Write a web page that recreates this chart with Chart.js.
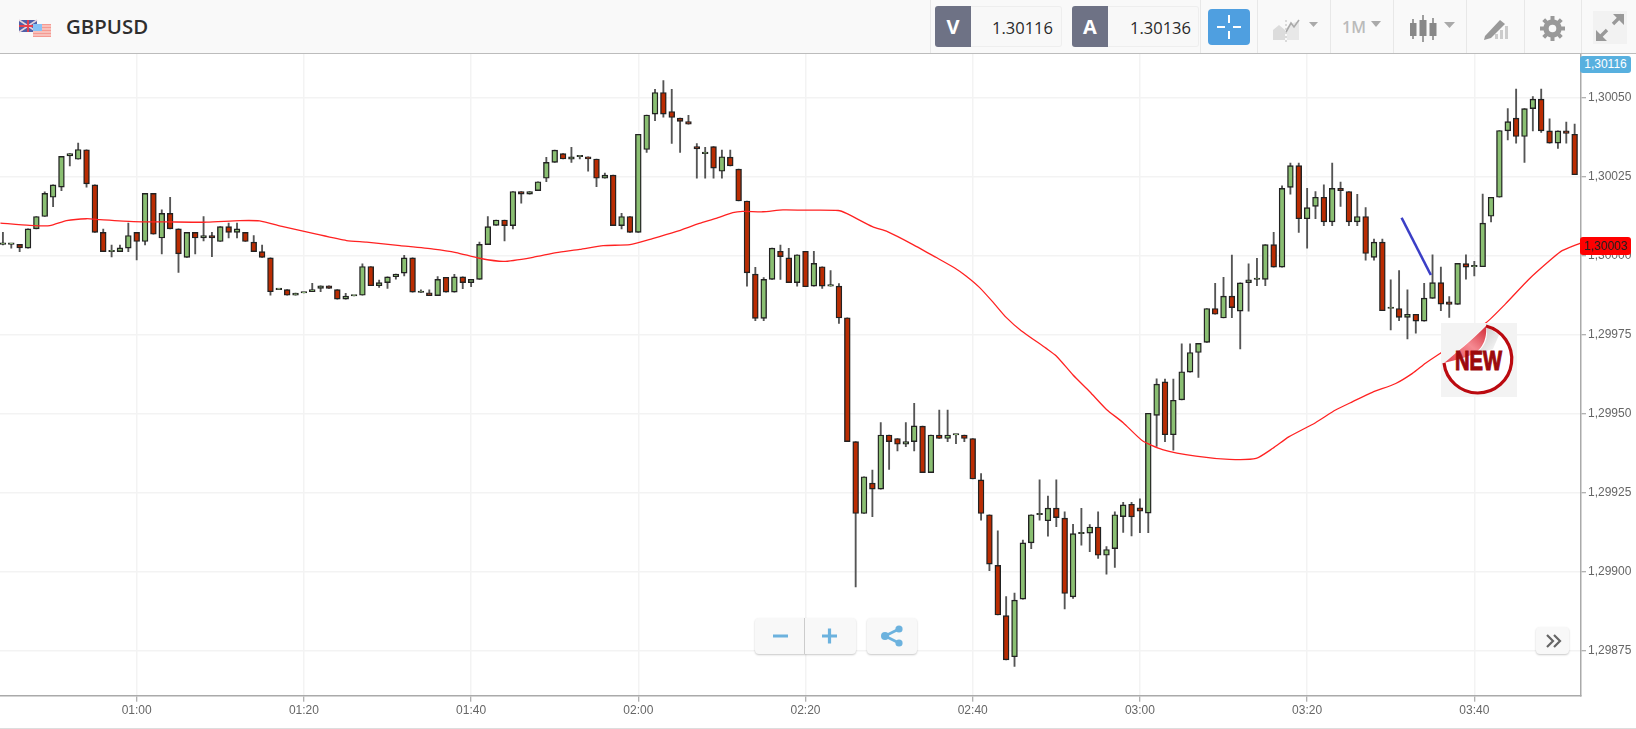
<!DOCTYPE html>
<html>
<head>
<meta charset="utf-8">
<title>GBPUSD</title>
<script src="https://cdn.jsdelivr.net/npm/chart.js@4"></script>
<style>
html, body { margin: 0; padding: 0; background: #fff; }
body { width: 1636px; height: 729px; overflow: hidden; position: relative; font-family: 'Open Sans', sans-serif; }
#chart { position: absolute; left: 0; top: 0; }
.abs { position: absolute; }
#header { left: 0; top: 0; width: 1636px; height: 53px; background: #f9f9f9; border-bottom: 1.5px solid #bcbcbc; }
#pair { left: 66px; top: 12px; font-size: 20.4px; font-weight: 600; color: #2e2e2e; line-height: 28px; }
.sep { top: 0; width: 1px; height: 53px; background: #e8e8e8; }
.letter { top: 6px; width: 36px; height: 41px; background: #6e7285; color: #fff; font-size: 20px; font-weight: 700; line-height: 41px; text-align: center; border-radius: 3px 0 0 3px; }
.quote { top: 6px; height: 39px; background: #f8f8f8; border: 1px solid #eee; border-left: 0; color: #2a2a2a; font-size: 16.5px; line-height: 41px; text-align: right; box-sizing: content-box; border-radius: 0 3px 3px 0; }
.tag { left: 1580px; width: 51px; font: 12px 'Liberation Sans', sans-serif; text-align: center; border-radius: 3px; }
.tool { top: 618px; height: 36px; background: #f8f8f8; border-radius: 4px; box-shadow: 0 1px 2px rgba(0,0,0,.22); }
</style>
</head>
<body>
<canvas id="chart" width="1636" height="729"></canvas>

<div class="abs" id="header"></div>
<svg class="abs" style="left:19px;top:19px" width="33" height="19" viewBox="0 0 33 19">
  <rect x="0" y="1" width="18" height="12" fill="#4f5fa8"/>
  <path d="M0 1L18 13M18 1L0 13" stroke="#e4d4dc" stroke-width="1.6"/>
  <path d="M9 1V13M0 7H18" stroke="#e8404c" stroke-width="1.8"/>
  <rect x="14" y="5" width="18" height="13" fill="#f59a92"/>
  <path d="M14 7H32M14 10H32M14 13H32M14 16H32" stroke="#fbe6e2" stroke-width="1.2"/>
  <rect x="14" y="5" width="9" height="7" fill="#86c2f6"/>
</svg>
<div class="abs" id="pair">GBPUSD</div>

<div class="abs sep" style="left:930px"></div>
<div class="abs sep" style="left:1200px"></div>
<div class="abs sep" style="left:1257px"></div>
<div class="abs sep" style="left:1330px"></div>
<div class="abs sep" style="left:1393px"></div>
<div class="abs sep" style="left:1466px"></div>
<div class="abs sep" style="left:1524px"></div>
<div class="abs sep" style="left:1581px"></div>

<div class="abs letter" style="left:935px">V</div>
<div class="abs quote" style="left:971px;width:82px;padding-right:8px">1.30116</div>
<div class="abs letter" style="left:1072px">A</div>
<div class="abs quote" style="left:1108px;width:83px;padding-right:7px">1.30136</div>

<svg class="abs" style="left:1208px;top:9px" width="42" height="36" viewBox="0 0 42 36">
  <rect width="42" height="36" rx="4" fill="#4f9fe0"/>
  <path d="M21 6V14M21 22V30M9 18H17M25 18H33" stroke="#fff" stroke-width="2"/>
</svg>
<svg class="abs" style="left:1272px;top:18px" width="48" height="24" viewBox="0 0 48 24">
  <path d="M1 22V12L7 7L13 12V22Z" fill="#dcdcdc"/>
  <path d="M15 22V9L21 5L27 3V22Z" fill="#e8e8e8"/>
  <path d="M14 14L19 5L22 9L27 2" fill="none" stroke="#aaa" stroke-width="1.6"/>
  <path d="M14 2V24" stroke="#bbb" stroke-width="1" stroke-dasharray="2 2"/>
  <path d="M37 4H46L41.5 9Z" fill="#aaa"/>
</svg>
<div class="abs" style="left:1342px;top:14px;font-size:16px;font-weight:600;color:#bbb;line-height:26px">1M</div>
<svg class="abs" style="left:1370px;top:20px" width="12" height="8" viewBox="0 0 12 8"><path d="M1 1H11L6 7Z" fill="#aaa"/></svg>
<svg class="abs" style="left:1409px;top:14px" width="48" height="30" viewBox="0 0 48 30">
  <path d="M4 5V25M14 1V28M24 4V26" stroke="#888" stroke-width="1.6"/>
  <rect x="1" y="9" width="6.5" height="13" fill="#888"/>
  <rect x="10.5" y="6" width="7" height="16" fill="#888"/>
  <rect x="20.5" y="9" width="7" height="13" fill="#888"/>
  <path d="M35 8H46L40.5 14Z" fill="#aaa"/>
</svg>
<svg class="abs" style="left:1483px;top:17px" width="26" height="24" viewBox="0 0 26 24">
  <path d="M2 19L17 3L22 7L8 21L1 23Z" fill="#999"/>
  <path d="M12 22H15V17H12ZM17 22H20V13H17ZM22 22H25V9H22Z" fill="#ccc"/>
</svg>
<svg class="abs" style="left:1539px;top:15px" width="27" height="27" viewBox="0 0 27 27">
  <circle cx="13.5" cy="13.5" r="6.5" fill="none" stroke="#999" stroke-width="5.4"/>
  <path d="M13.5 1V26M1 13.5H26M4.7 4.7L22.3 22.3M22.3 4.7L4.7 22.3" stroke="#999" stroke-width="4" stroke-dasharray="4.5 16 4.5"/>
</svg>
<svg class="abs" style="left:1593px;top:11px" width="34" height="33" viewBox="0 0 34 33">
  <rect width="34" height="33" fill="#f2f2f2"/>
  <path d="M5 28L14 19M20 13L29 4" stroke="#999" stroke-width="3.4"/>
  <path d="M3 19V30H14ZM31 14V3H20Z" fill="#999"/>
</svg>

<div class="abs tag" style="top:56px;height:17px;line-height:17px;background:#58b0df;color:#fff">1,30116</div>
<div class="abs tag" style="top:237px;height:18px;line-height:18px;background:#ff0000;color:#222">1,30003</div>

<svg class="abs" style="left:1441px;top:323px" width="76" height="74" viewBox="0 0 76 74">
  <defs>
    <linearGradient id="peel" x1="0" y1="1" x2="1" y2="0">
      <stop offset="0" stop-color="#e4404c"/><stop offset=".55" stop-color="#f58a92"/><stop offset="1" stop-color="#d22c38"/>
    </linearGradient>
    <linearGradient id="shade" x1="0" y1="0" x2="1" y2="1">
      <stop offset="0" stop-color="#9a9a9a"/><stop offset="1" stop-color="#ffffff"/>
    </linearGradient>
  </defs>
  <rect width="76" height="74" fill="#f3f3f3"/>
  <path d="M3 40 L45 3 A34 34 0 1 1 3 40Z" fill="#fff"/>
  <path d="M45 3 C48 14, 44 26, 32 32 L52 26 L58 12Z" fill="url(#shade)" opacity=".65"/>
  <path d="M45 3 A34 34 0 1 1 3 40" fill="none" stroke="#bb0a10" stroke-width="3.2"/>
  <path d="M3 40 C 15 30, 30 18, 45 3 C 46 12, 44 26, 30 32 C 20 36, 10 38, 3 40Z" fill="url(#peel)"/>
  <text x="14" y="47" font-family="Liberation Sans, sans-serif" font-size="27" font-weight="700" fill="#9c0a0c" stroke="#9c0a0c" stroke-width="1.1" textLength="47" lengthAdjust="spacingAndGlyphs">NEW</text>
</svg>

<div class="abs tool" style="left:755px;width:101px"></div>
<div class="abs" style="left:804px;top:618px;width:1px;height:36px;background:#ccc"></div>
<svg class="abs" style="left:770px;top:626px" width="70" height="20" viewBox="0 0 70 20">
  <path d="M3 10H18M52 10H67M59.5 2.5V17.5" stroke="#6cb2de" stroke-width="3.2"/>
</svg>
<div class="abs tool" style="left:867px;width:50px"></div>
<svg class="abs" style="left:880px;top:625px" width="24" height="22" viewBox="0 0 24 22">
  <path d="M5 11L19 4M5 11L19 18" stroke="#6cb2de" stroke-width="2.6"/>
  <circle cx="5" cy="11" r="4" fill="#6cb2de"/><circle cx="19" cy="4" r="3.6" fill="#6cb2de"/><circle cx="19" cy="18" r="3.6" fill="#6cb2de"/>
</svg>
<div class="abs tool" style="left:1536px;top:627px;width:33px;height:27px"></div>
<svg class="abs" style="left:1545px;top:633px" width="18" height="16" viewBox="0 0 18 16">
  <path d="M2 2L8 8L2 14M9 2L15 8L9 14" fill="none" stroke="#666" stroke-width="2.2"/>
</svg>
<div class="abs" style="left:0;top:728px;width:1636px;height:1px;background:#ddd"></div>

<script>
// prices are in points above 1.29000, so 1050 reads 1,30050
const firstMinute = 44; // first candle is 00:44, one candle per minute

const opens = [
  1003.5,1003.5,1003.5,1002.3,1008.4,1012.3,1018.4,1021.6,1031.5,1030.4,
  1033.4,1022.3,1007.3,1001.2,1001.2,1002.3,1007.3,1004.4,1019.6,1005.5,
  1013.3,1008.4,999.4,1007.3,1005.5,1006.3,1004.4,1009.1,1007.3,1007.3,
  1004.2,1001.2,999.2,989.2,989.2,987.4,988.1,988.5,989.6,990.4,
  989.2,986.2,987.2,987.4,996.5,990.4,991.4,993.3,994.4,999.2,
  988.3,988.2,987.3,993.1,988.4,993.2,991.4,992.4,1003.4,1009.5,
  1011.2,1009.4,1020.2,1019.4,1020.5,1024.4,1029.4,1032.2,1030.4,1031.2,
  1031.2,1030.5,1024.4,1025.4,1009.4,1012.3,1007.3,1033.5,1044.7,1051.5,
  1045.5,1043.4,1042.3,1034.4,1032.2,1034.4,1026.6,1031.1,1027.3,1017.2,
  994.1,980.1,992.4,1001.3,999.2,991.4,1001.3,990.3,996.4,990.3,
  990.3,980.3,941.1,918.4,928,926.1,943.2,942.1,940.3,941.1,
  946,931.3,943.2,942.1,943.2,943.2,942.1,929,918,902,
  886.1,873.1,891.3,909.1,918,916.1,920.1,916.9,892,912,
  912.2,914.1,905.2,907.3,917.4,921.3,920.2,918.5,949.4,960,
  943.3,954.3,963.1,969.3,972.5,983.2,980.2,987.1,982.4,991.4,
  992.4,992.4,1003.4,996.3,1021.5,1028.4,1011.6,1015.5,1018.4,1010.6,
  1021.2,1020.2,1010.6,1012.3,999.4,1004.2,983.2,983.2,980.4,981.4,
  979.2,986.4,991.4,985.3,984.5,997.4,996.4,996.4,1012.4,1018.4,
  1039.4,1043.4,1037.6,1046.4,1049.4,1039.4,1035.5,1039.4,1038.3
];
const closes = [
  1003.5,1003.5,1002.4,1008.4,1012.3,1019.6,1022.3,1031.3,1032.2,1033.5,
  1022.6,1007.3,1001.2,1001.2,1002.4,1006.3,1004.4,1019.6,1006.7,1013.3,
  1008.4,1000.5,1007.3,1005.5,1006.3,1005.5,1009.1,1007.3,1008.4,1004.4,
  1001.2,999.4,988.5,989.2,987.4,988.1,988.1,989.2,990.4,989.6,
  986.2,987.1,987.2,996.5,990.4,991.4,993.2,994.1,999.2,988.4,
  988.3,987.3,992.4,988.4,993.2,991.4,992.4,1003.5,1009.1,1011.2,
  1009.4,1020.2,1019.4,1020.2,1023.3,1029.4,1033.3,1030.5,1031.2,1031.2,
  1030.5,1024.4,1025.4,1009.4,1012.3,1007.3,1038.3,1044.4,1051.5,1044.7,
  1043.6,1042.4,1041.5,1033.7,1032.2,1027.6,1031.2,1028.3,1017.2,994.5,
  980.1,992.4,1002.3,999.6,991.4,1000.2,990.1,997.5,990.3,990.3,
  980.2,941.1,918.4,930,926.1,943.2,941.1,940.3,941.1,946.1,
  931.3,943.2,942.1,943.2,943.2,942.1,929.3,918.4,902.4,886.3,
  872.1,891,909.1,918,918,920.1,917.1,893.1,912,912,
  914.1,905.2,907,918,921.1,917.3,919.1,950.1,959.3,943.3,
  954.2,963.2,969.3,972.2,983.2,981.4,987.1,983.5,991.3,992.3,
  992.4,1003.4,996.3,1021.2,1028.4,1011.6,1015.1,1018.4,1010.6,1021.2,
  1020.5,1010.6,1012.3,1000.6,1004.2,982.5,983.2,980.4,981.4,979.2,
  986.5,991.4,984.6,984.5,997.5,996.3,996.4,1010.2,1018.4,1039.5,
  1042.3,1037.6,1046.4,1049.4,1039.4,1035.5,1039.4,1038.6,1025.5
];
const highs = [
  1007.3,1003.5,1003.5,1008.4,1012.3,1020.1,1022.3,1031.3,1032.2,1035.5,
  1033.4,1022.3,1008.3,1003.3,1003.3,1010.2,1007.3,1019.6,1019.6,1014.4,
  1018.4,1008.4,1007.3,1007.3,1012.3,1007.3,1009.1,1010.2,1010.2,1007.3,
  1006.3,1003.3,999.2,989.2,989.2,988.1,988.1,991.2,990.4,990.4,
  989.2,988,987.2,997.3,996.5,992.2,993.2,994.1,1000,999.2,
  989.1,989.1,993.3,993.1,994,993.2,992.4,1004.2,1012.3,1011.2,
  1011.2,1020.2,1020.2,1020.2,1023.3,1031,1033.3,1032.2,1034.2,1031.2,
  1031.2,1030.5,1026,1025.4,1013.3,1012.3,1038.3,1044.4,1052.5,1055.3,
  1052.5,1043.4,1044.3,1035.4,1034.2,1034.4,1033.3,1033.3,1027.3,1017.2,
  996.2,993,1002.3,1003.3,1002.2,1000.2,1001.3,1001.3,996.4,995.2,
  991.1,980.3,941.1,930,932.1,947.1,943.2,942.1,947.1,953.2,
  946,943.2,951.1,951.1,943.2,943.2,942.1,931,918,912.9,
  892.1,893.2,910,918,929,923.9,929,918.9,915,920,
  914.9,918.9,907.9,918.9,921.9,921.9,923,950.1,961,960.9,
  960.9,972,972,972.2,983.2,991.2,993.1,1000.1,991.3,997.3,
  999.1,1003.4,1007.3,1022,1029.2,1029.2,1021.2,1020.2,1022.3,1029.2,
  1023.2,1020.2,1019.3,1015.1,1005.2,1005.2,992.3,995.2,989.1,981.4,
  991.2,1000.2,996.3,987,997.5,1000.2,998.1,1019.4,1018.4,1039.5,
  1046.4,1052.6,1046.4,1050.2,1052.6,1043.2,1039.4,1042.2,1041.5
];
const lows = [
  1003.3,1002.3,1001.2,1002.3,1008.4,1012.3,1015.4,1020.5,1028.3,1030.4,
  1021.6,1007.3,1001.2,999.5,1001.2,1001.2,998.6,1003.3,1006.7,1000.5,
  1008.4,994.6,999.4,1000.5,1004.6,999.6,1004.4,1005.5,1005.5,1004.4,
  1001.2,999.4,987.4,989.2,987.4,987.4,988.1,988.5,988.5,989.6,
  986.2,986.2,987.2,987.4,990.4,989.9,989.6,992.5,993.5,988.4,
  988.3,987.3,987.3,988.4,988.4,989.5,990.1,992.4,1003.4,1009.5,
  1004.6,1008.4,1016.5,1019.4,1020.5,1023.3,1029.4,1030.5,1029.4,1030.5,
  1026.6,1021.7,1024.4,1009.4,1008.4,1007.3,1007.3,1032.6,1042.6,1043.7,
  1035.4,1032.6,1041.5,1024.4,1024.4,1024.4,1024.4,1028.3,1017.2,990.3,
  979.4,979.4,992.4,992.4,991.4,990.3,990.1,990.3,989.6,990.3,
  978.5,941.1,895.2,918.4,917.4,926.1,932.3,938.2,939.5,938.2,
  931.3,931.3,942.1,941.1,940.5,941.1,929.3,916.3,900.3,886.3,
  872.1,870,891.3,907.3,916.3,911.2,914.2,888.2,891.5,908.4,
  906.3,904.2,899.2,901.3,912.4,911.3,912.3,912.3,939.6,941.1,
  938.4,954.3,963.1,961.4,972.5,981.4,980.2,980.3,970.4,982.4,
  990.4,990.4,996.3,996.3,1019.4,1007.3,1002.3,1011.6,1009.4,1009.4,
  1015.5,1009.4,1009.4,998.5,998.5,982.5,976.4,979.4,973.6,975.4,
  979.2,986.4,982.5,980.4,984.5,992.5,993.5,996.4,1010.6,1018.4,
  1036.5,1035.5,1029.4,1039.4,1038.9,1035.5,1033.8,1035.5,1025.5
];

// moving average, read as minute / value pairs
const maMinutes = [
  43.7,47.2,49.6,51.6,54,55.6,59.6,63.6,68.4,72.3,74.7,77.5,81.5,85.1,87.5,91.5,
  95.5,98.2,101,103.9,107.4,110.2,113,115.8,119,121.7,124.5,127.3,129.3,131.3,132.5,134.9,137.3,
  140.5,143.9,144.9,148,149.8,152.8,155.6,157.8,159.2,160.8,162.4,164,165.8,168.8,170,172,174,176,178,
  180.3,182.7,186.7,190.7,193.9,195.9,197.8,201,203.4,205.4,207.8,210.6,212.6,214.2,215.9,
  221.4,223.7,226.5,229.3,230.5,232.7
];
const maValues = [
  1010.2,1009.5,1009.4,1011,1011.6,1011.3,1010.7,1010.6,1010.5,1011,1010.9,1009.1,1006.7,1004.7,1004.2,1003.1,
  1002,1000.9,999.1,998.1,999.4,1000.9,1001.9,1003.1,1003.4,1005.3,1007.5,1010.1,1011.7,1013.5,1013.9,1013.8,1014.4,
  1014.3,1014.2,1013.3,1009.1,1007.5,1003.5,999.4,996.1,993.5,989.9,985.3,980.4,976.2,970.6,968.2,962.2,956.9,951.3,947.1,
  941.4,938.6,936.5,935.5,935.8,939,942.6,947.1,951.1,953.7,956.7,959.5,962.7,966,969,
  978.7,984.6,992.4,999,1001.5,1003.9
];

// hand drawn blue trend line
const trendMinutes = [211.3, 214.8];
const trendValues = [1011.9, 993.8];

const xTickMinutes = [60, 80, 100, 120, 140, 160, 180, 200, 220];
const xTickLabels = ['01:00', '01:20', '01:40', '02:00', '02:20', '02:40', '03:00', '03:20', '03:40'];
const yTickValues = [875, 900, 925, 950, 975, 1000, 1025, 1050];
const yTickLabels = ['1,29875', '1,29900', '1,29925', '1,29950', '1,29975', '1,30000', '1,30025', '1,30050'];

const upColor = '#8abf72';
const downColor = '#ba2c02';

const minutes = opens.map((o, i) => firstMinute + i);
const isUp = opens.map((o, i) => closes[i] >= o);

const ctx = document.getElementById('chart').getContext('2d');
new Chart(ctx, {
  type: 'bar',
  data: {
    datasets: [
      {
        label: 'wicks',
        order: 3,
        data: minutes.map((m, i) => ({ x: m, y: [lows[i], highs[i]] })),
        backgroundColor: '#555',
        barThickness: 1.2,
        minBarLength: 0
      },
      {
        label: 'bodies',
        order: 2,
        data: minutes.map((m, i) => ({ x: m, y: [opens[i], closes[i]] })),
        backgroundColor: isUp.map(up => up ? upColor : downColor),
        borderColor: '#222',
        borderWidth: 1.4,
        borderSkipped: false,
        barThickness: 5.8,
        minBarLength: 1.4
      },
      {
        type: 'line',
        label: 'MA',
        order: 1,
        data: maMinutes.map((m, i) => ({ x: m, y: maValues[i] })),
        borderColor: '#ff2222',
        borderWidth: 1.3,
        pointRadius: 0,
        tension: 0.2
      },
      {
        type: 'line',
        label: 'trend',
        order: 0,
        data: trendMinutes.map((m, i) => ({ x: m, y: trendValues[i] })),
        borderColor: '#3b3fc6',
        borderWidth: 2.6,
        pointRadius: 0
      }
    ]
  },
  options: {
    responsive: false,
    animation: false,
    grouped: false,
    layout: { padding: { top: 54, left: 0, right: 0, bottom: 0 } },
    plugins: { legend: { display: false }, tooltip: { enabled: false } },
    scales: {
      x: {
        type: 'linear',
        offset: false,
        min: 43.65,
        max: 232.76,
        grid: { offset: false, color: '#f3f3f3', lineWidth: 1.5, tickColor: '#999', tickWidth: 1, tickLength: 6 },
        border: { color: '#aaa', width: 1.5 },
        afterBuildTicks: scale => { scale.ticks = xTickMinutes.map(v => ({ value: v })); },
        afterFit: scale => { scale.height = 33.3; },
        ticks: {
          autoSkip: false,
          maxRotation: 0,
          padding: 2,
          color: '#666',
          font: { family: "'Liberation Sans', sans-serif", size: 12 },
          callback: (v) => xTickLabels[xTickMinutes.indexOf(v)]
        }
      },
      y: {
        position: 'right',
        min: 860.77,
        max: 1063.69,
        grid: { color: '#f3f3f3', lineWidth: 1.5, tickColor: '#999', tickWidth: 1, tickLength: 5 },
        border: { color: '#aaa', width: 1.5 },
        afterBuildTicks: scale => { scale.ticks = yTickValues.map(v => ({ value: v })); },
        afterFit: scale => { scale.width = 55; },
        ticks: {
          padding: 2,
          color: '#666',
          font: { family: "'Liberation Sans', sans-serif", size: 12 },
          callback: (v) => yTickLabels[yTickValues.indexOf(v)]
        }
      }
    }
  }
});
</script>
</body>
</html>
